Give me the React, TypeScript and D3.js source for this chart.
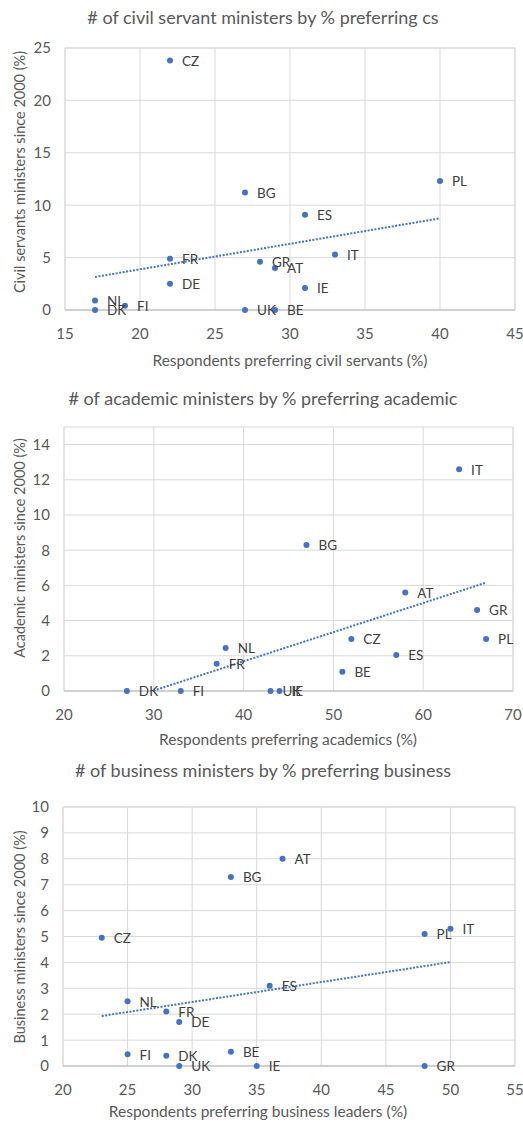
import React from "react";
import { scaleLinear, range, mean, sum, extent } from "d3";

// chart 1: civil servants
const csCountries = ["CZ", "BG", "PL", "ES", "IT", "FR", "GR", "AT", "DE", "IE", "NL", "FI", "DK", "UK", "BE"];
const csPreferring = [22, 27, 40, 31, 33, 22, 28, 29, 22, 31, 17, 19, 17, 27, 29];
const csMinisters = [23.8, 11.2, 12.3, 9.1, 5.3, 4.9, 4.6, 4.0, 2.5, 2.1, 0.9, 0.4, 0, 0, 0];

// chart 2: academics
const acCountries = ["IT", "BG", "AT", "GR", "PL", "CZ", "NL", "ES", "FR", "BE", "DK", "FI", "UK", "IE"];
const acPreferring = [64, 47, 58, 66, 67, 52, 38, 57, 37, 51, 27, 33, 43, 44];
const acMinisters = [12.6, 8.3, 5.6, 4.6, 2.95, 2.95, 2.45, 2.05, 1.55, 1.1, 0, 0, 0, 0];

// chart 3: business
const buCountries = ["AT", "BG", "CZ", "PL", "IT", "ES", "NL", "FR", "DE", "FI", "DK", "BE", "UK", "IE", "GR"];
const buPreferring = [37, 33, 23, 48, 50, 36, 25, 28, 29, 25, 28, 33, 29, 35, 48];
const buMinisters = [8.0, 7.3, 4.95, 5.1, 5.3, 3.1, 2.5, 2.1, 1.7, 0.45, 0.4, 0.55, 0, 0, 0];

const font = "Lato, 'Open Sans', sans-serif";
const dotColor = "#4472C4";
const textColor = "#595959";
const gridColor = "#d9d9d9";

type Props = {
  id: string;
  title: string;
  xTitle: string;
  yTitle: string;
  countries: string[];
  xs: number[];
  ys: number[];
  xDomain: [number, number];
  xStep: number;
  yDomain: [number, number];
  yStep: number;
  box: { left: number; right: number; top: number; bottom: number };
  titleY: number;
  xTitleX: number;
  xTitleY: number;
  yTitleY: number;
};

const Scatter = (p: Props) => {
  const { box } = p;
  const x = scaleLinear().domain(p.xDomain).range([box.left, box.right]);
  const y = scaleLinear().domain(p.yDomain).range([box.bottom, box.top]);
  const xTicks = range(p.xDomain[0], p.xDomain[1] + 0.001, p.xStep);
  const yTicks = range(p.yDomain[0], p.yDomain[1] + 0.001, p.yStep);

  // least squares trendline, like excel's linear trendline
  const mx = mean(p.xs) as number;
  const my = mean(p.ys) as number;
  const sxy = sum(p.xs, (d, i) => (d - mx) * (p.ys[i] - my));
  const sxx = sum(p.xs, (d) => (d - mx) * (d - mx));
  const slope = sxy / sxx;
  const [x0, x1] = extent(p.xs) as [number, number];
  const f = (v: number) => my + slope * (v - mx);

  return (
    <g fontFamily={font}>
      <defs>
        <clipPath id={p.id}>
          <rect x={box.left} y={box.top} width={box.right - box.left} height={box.bottom - box.top} />
        </clipPath>
      </defs>
      <text x={263} y={p.titleY} textAnchor="middle" fontSize={18} fill={textColor}>
        {p.title}
      </text>
      {xTicks.map((t) => (
        <g key={"x" + t}>
          <line x1={x(t)} x2={x(t)} y1={box.top} y2={box.bottom} stroke={gridColor} />
          <text x={x(t)} y={box.bottom + 29} textAnchor="middle" fontSize={15} fill={textColor}>
            {t}
          </text>
        </g>
      ))}
      {yTicks.map((t) => (
        <g key={"y" + t}>
          <line x1={box.left} x2={box.right} y1={y(t)} y2={y(t)} stroke={gridColor} />
          <text x={box.left - 14} y={y(t)} dy="0.36em" textAnchor="end" fontSize={15} fill={textColor}>
            {t}
          </text>
        </g>
      ))}
      <rect x={box.left} y={box.top} width={box.right - box.left} height={box.bottom - box.top} fill="none" stroke={gridColor} />
      <line x1={box.left} x2={box.right} y1={box.bottom} y2={box.bottom} stroke="#bfbfbf" />
      <line
        x1={x(x0)} y1={y(f(x0))} x2={x(x1)} y2={y(f(x1))}
        stroke={dotColor} strokeWidth={2} strokeDasharray="2 1.5" clipPath={`url(#${p.id})`}
      />
      {p.xs.map((d, i) => (
        <circle key={"c" + i} cx={x(d)} cy={y(p.ys[i])} r={3} fill={dotColor} />
      ))}
      {p.xs.map((d, i) => (
        <text key={"l" + i} x={x(d) + 12} y={y(p.ys[i])} dy="0.4em" fontSize={13.5} fill="#404040">
          {p.countries[i]}
        </text>
      ))}
      <text x={p.xTitleX} y={p.xTitleY} textAnchor="middle" fontSize={15.5} fill={textColor}>
        {p.xTitle}
      </text>
      <text
        transform={`translate(20,${p.yTitleY}) rotate(-90)`}
        textAnchor="middle" dy="0.35em" fontSize={14.5} fill={textColor}
      >
        {p.yTitle}
      </text>
    </g>
  );
};

export default function App() {
  return (
    <svg width={523} height={1124} style={{ position: "absolute", left: 0, top: 0, background: "#fff" }}>
      <Scatter
        id="c1"
        title="# of civil servant ministers by % preferring cs"
        xTitle="Respondents preferring civil servants (%)"
        yTitle="Civil servants ministers since 2000 (%)"
        countries={csCountries} xs={csPreferring} ys={csMinisters}
        xDomain={[15, 45]} xStep={5} yDomain={[0, 25]} yStep={5}
        box={{ left: 65, right: 515, top: 48, bottom: 310 }}
        titleY={24} xTitleX={290} xTitleY={366} yTitleY={172}
      />
      <Scatter
        id="c2"
        title="# of academic ministers by % preferring academic"
        xTitle="Respondents preferring academics (%)"
        yTitle="Academic ministers since 2000 (%)"
        countries={acCountries} xs={acPreferring} ys={acMinisters}
        xDomain={[20, 70]} xStep={10} yDomain={[0, 15]} yStep={2}
        box={{ left: 64, right: 513, top: 427, bottom: 691 }}
        titleY={405} xTitleX={288} xTitleY={745} yTitleY={548}
      />
      <Scatter
        id="c3"
        title="# of business ministers by % preferring business"
        xTitle="Respondents preferring business leaders (%)"
        yTitle="Business ministers since 2000 (%)"
        countries={buCountries} xs={buPreferring} ys={buMinisters}
        xDomain={[20, 55]} xStep={5} yDomain={[0, 10]} yStep={1}
        box={{ left: 63, right: 515, top: 807, bottom: 1066 }}
        titleY={777} xTitleX={258} xTitleY={1117} yTitleY={937}
      />
    </svg>
  );
}
